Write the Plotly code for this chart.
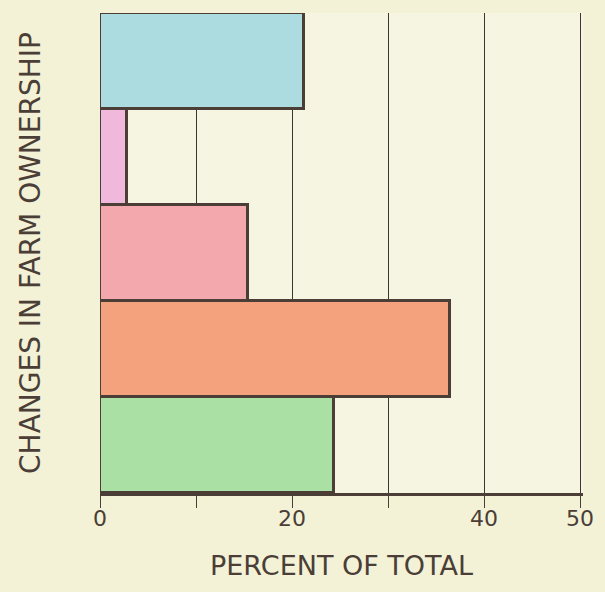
import plotly.graph_objects as go

categories = ["Group 1", "Group 2", "Group 3", "Group 4", "Group 5"]
values = [21.2, 2.85, 15.4, 36.5, 24.4]
colors = ["#acdbe0", "#f0b8da", "#f2a8ad", "#f3a27d", "#abe0a5"]
tick_vals = [0, 10, 20, 30, 40, 50]
tick_text = ["0", "", "20", "", "40", "50"]

ink = "#4a3e37"

fig = go.Figure(go.Bar(
    x=values,
    y=categories,
    orientation="h",
    marker=dict(color=colors, line=dict(color=ink, width=3)),
    hoverinfo="x",
))

fig.update_layout(
    width=605, height=592,
    margin=dict(l=100, r=22, t=13, b=99),
    paper_bgcolor="#f3f2d6",
    plot_bgcolor="#f6f5e1",
    bargap=0,
    showlegend=False,
    font=dict(family="DejaVu Sans", color=ink),
)

fig.update_xaxes(
    range=[0, 50.3],
    tickvals=tick_vals,
    ticktext=tick_text,
    ticks="outside", ticklen=12, tickwidth=1.2, tickcolor=ink,
    tickfont=dict(size=22, color=ink),
    ticklabelstandoff=-8,
    showgrid=True, gridcolor="#3d3530", gridwidth=1,
    zeroline=False,
    showline=True, linecolor=ink, linewidth=3,
    title=dict(text="PERCENT OF TOTAL", font=dict(size=27, color=ink), standoff=26),
)

fig.update_yaxes(
    autorange="reversed",
    showticklabels=False,
    showgrid=False,
    zeroline=False,
    showline=False,
    ticks="",
    title=dict(text="CHANGES IN FARM OWNERSHIP", font=dict(size=28, color=ink), standoff=50),
)

fig.write_html(
    "out.html",
    config={"displayModeBar": False},
    post_script="document.body.style.margin='0';document.body.style.background='#f3f2d6';",
)
